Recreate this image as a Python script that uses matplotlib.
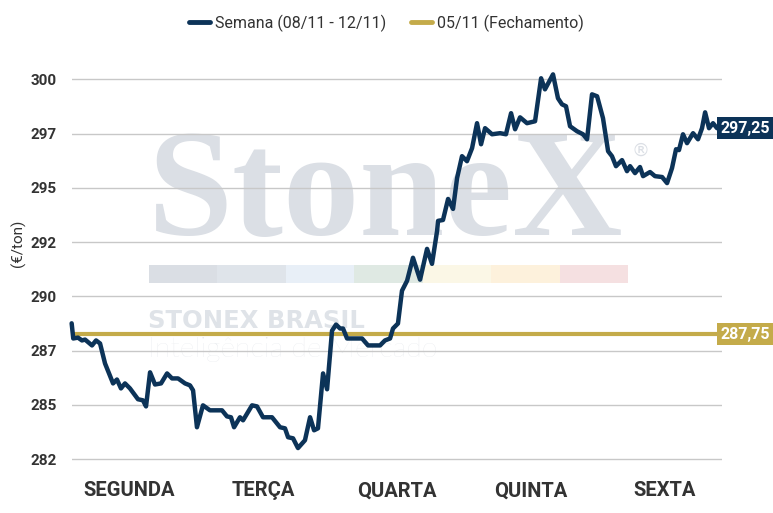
import matplotlib
matplotlib.use('Agg')
import matplotlib.pyplot as plt
import matplotlib.transforms as mtransforms
from matplotlib.patches import Rectangle
from matplotlib.lines import Line2D

# dias (centro de cada dia no eixo x, em dias desde segunda)
dias = ['SEGUNDA', 'TERÇA', 'QUARTA', 'QUINTA', 'SEXTA']
dias_pos = [0.5, 1.5, 2.5, 3.5, 4.5]

# eixo y
y_ticks = [282, 284.5, 287, 289.5, 292, 294.5, 297, 299.5]
y_labels = ['282', '285', '287', '290', '292', '295', '297', '300']

fechamento = 287.75   # 05/11
ultimo = 297.25

# semana 08/11 - 12/11 (tempo em dias, preco em EUR/ton)
tempo = [0.072, 0.084, 0.119, 0.149, 0.172, 0.224, 0.254, 0.284, 0.321, 0.381,
         0.410, 0.440, 0.470, 0.507, 0.567, 0.604, 0.627, 0.657, 0.694, 0.739,
         0.784, 0.821, 0.866, 0.918, 0.955, 0.978, 1.007, 1.052, 1.104, 1.194,
         1.231, 1.261, 1.284, 1.328, 1.351, 1.418, 1.455, 1.500, 1.567, 1.627,
         1.664, 1.687, 1.724, 1.761, 1.813, 1.851, 1.881, 1.910, 1.948, 1.978,
         2.015, 2.045, 2.075, 2.097, 2.127, 2.239, 2.284, 2.373, 2.410, 2.448,
         2.470, 2.507, 2.537, 2.575, 2.619, 2.672, 2.724, 2.761, 2.799, 2.806,
         2.843, 2.881, 2.918, 2.948, 2.985, 3.022, 3.060, 3.097, 3.127, 3.157,
         3.209, 3.269, 3.313, 3.351, 3.381, 3.418, 3.470, 3.530, 3.575, 3.604,
         3.664, 3.701, 3.731, 3.761, 3.791, 3.843, 3.888, 3.918, 3.955, 3.993,
         4.037, 4.075, 4.104, 4.134, 4.179, 4.216, 4.239, 4.276, 4.313, 4.336,
         4.388, 4.425, 4.478, 4.515, 4.552, 4.582, 4.604, 4.634, 4.664, 4.709,
         4.746, 4.776, 4.799, 4.828, 4.858, 4.888]
preco = [288.26, 287.56, 287.60, 287.47, 287.51, 287.24, 287.47, 287.33, 286.41, 285.49,
         285.67, 285.26, 285.49, 285.26, 284.76, 284.71, 284.43, 286.00, 285.44, 285.49,
         285.95, 285.72, 285.72, 285.49, 285.40, 285.17, 283.47, 284.48, 284.25, 284.25,
         283.97, 283.93, 283.47, 283.93, 283.79, 284.48, 284.43, 283.93, 283.93, 283.47,
         283.42, 283.01, 282.96, 282.51, 282.87, 283.93, 283.33, 283.42, 285.95, 285.22,
         287.92, 288.20, 288.02, 288.02, 287.56, 287.56, 287.24, 287.24, 287.47, 287.56,
         288.02, 288.25, 289.76, 290.22, 291.28, 290.27, 291.69, 291.00, 292.52, 292.98,
         293.02, 293.99, 293.53, 294.95, 295.96, 295.73, 296.33, 297.48, 296.51, 297.25,
         296.97, 297.02, 296.97, 297.94, 297.20, 297.75, 297.48, 297.57, 299.55, 299.04,
         299.73, 298.63, 298.35, 298.26, 297.34, 297.11, 296.97, 296.74, 298.81, 298.72,
         297.71, 296.19, 295.96, 295.50, 295.78, 295.27, 295.50, 295.18, 295.46, 295.04,
         295.23, 295.04, 295.00, 294.72, 295.41, 296.28, 296.24, 296.97, 296.56, 297.02,
         296.74, 297.25, 297.98, 297.25, 297.48, 297.25]

# marca d'agua
cores_barra = ['#dadee4', '#dfe4ea', '#e8eff7', '#dfe9e3', '#fbf7e6', '#fdf1dc', '#f5e0e1']

azul = '#0c3358'
dourado = '#c4ab4a'
texto = '#333333'

W, H = 773, 513


def fx(x):
    return x / W


def fy(y):
    return 1 - y / H


fig = plt.figure(figsize=(W / 100, H / 100), dpi=100)
ax = fig.add_axes([fx(72), fy(470), (722 - 72) / W, (470 - 62) / H])
ax.set_facecolor('none')

# watermark atras de tudo
fig.text(fx(148), fy(235), 'StoneX', fontsize=110, family='Liberation Serif',
         weight='bold', color='#dbdfe5', va='baseline', ha='left', zorder=-3)
fig.text(fx(632), fy(156), '®', fontsize=13, family='DejaVu Sans',
         color='#dbdfe5', va='baseline', ha='left', zorder=-3)
seg = (628 - 149) / len(cores_barra)
for i, c in enumerate(cores_barra):
    fig.add_artist(Rectangle((fx(149 + i * seg), fy(283)), seg / W, 18 / H,
                             transform=fig.transFigure, color=c, zorder=-3, lw=0))
fig.text(fx(148), fy(328), 'STONEX BRASIL', fontsize=17.5, weight='bold',
         family='DejaVu Sans', color='#dfe3e8', va='baseline', zorder=-3)
fig.text(fx(148), fy(357), 'Inteligência de Mercado', fontsize=20.5, weight='light',
         family='Lato', color='#e4e7eb', va='baseline', zorder=-3)

# linhas
ax.axhline(fechamento, color=dourado, lw=3, zorder=3, solid_capstyle='butt')
ax.plot(tempo, preco, color=azul, lw=3.2, zorder=4, solid_joinstyle='round',
        solid_capstyle='round', clip_on=False)

ax.set_xlim(0.0746, 4.925)
ax.set_ylim(281.5, 300.3)
ax.set_yticks(y_ticks, y_labels)
ax.set_xticks(dias_pos, dias)
ax.grid(axis='y', color='#c8c8c8', lw=1)
ax.set_axisbelow(True)
for s in ax.spines.values():
    s.set_visible(False)
ax.tick_params(axis='y', length=0, pad=11, labelcolor=texto, labelsize=11)
ax.tick_params(axis='x', length=0, pad=8, labelcolor=texto, labelsize=14.5)
for lab in ax.get_yticklabels():
    lab.set_family('Roboto')
    lab.set_weight('bold')
for lab in ax.get_xticklabels():
    lab.set_family('Roboto')
    lab.set_weight('bold')

fig.text(fx(18), fy(243), '(€/ton)', rotation=90, ha='center', va='center',
         fontsize=11, family='Roboto', color=texto)

# etiquetas de valor na direita
tr = mtransforms.blended_transform_factory(ax.transAxes, ax.transData)
for val, cor in [(ultimo, azul), (fechamento, dourado)]:
    ax.text(0.9975, val, f'{val:.2f}'.replace('.', ','), transform=tr,
            ha='left', va='center', fontsize=11.5, family='Roboto', weight='bold',
            color='white', zorder=6, clip_on=False,
            bbox=dict(boxstyle='square,pad=0.22', fc=cor, ec='none'))

# legenda
handles = [Line2D([], [], color=azul, lw=3.5, solid_capstyle='round'),
           Line2D([], [], color=dourado, lw=3.5, solid_capstyle='round')]
fig.legend(handles, ['Semana (08/11 - 12/11)', '05/11 (Fechamento)'],
           loc='upper center', bbox_to_anchor=(0.5, 1.0), ncol=2, frameon=False,
           prop={'family': 'Roboto', 'size': 11.5}, labelcolor=texto,
           handlelength=1.3, handletextpad=0.3, columnspacing=1.6)

fig.savefig('out.png', dpi=100)
